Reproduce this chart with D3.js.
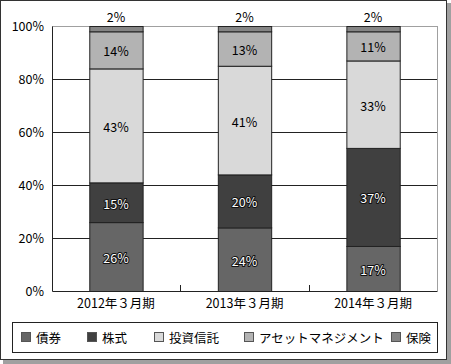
<!DOCTYPE html>
<html>
<head>
<meta charset="utf-8">
<script src="https://cdn.jsdelivr.net/npm/d3@7/dist/d3.min.js"></script>
<style>
  body { margin: 0; background: #fff; }
  svg text { font-family: "Noto Sans CJK JP", "Noto Sans", sans-serif; }
</style>
</head>
<body>
<div id="chart"></div>
<script>
// data
const periods = ['2012年３月期', '2013年３月期', '2014年３月期'];
const seriesNames = ['債券', '株式', '投資信託', 'アセットマネジメント', '保険'];
const bonds = [26, 24, 17];
const stocks = [15, 20, 37];
const trusts = [43, 41, 33];
const assetMgmt = [14, 13, 11];
const insurance = [2, 2, 2];
const yTicks = [0, 20, 40, 60, 80, 100];

const colors = ['#666666', '#404040', '#d9d9d9', '#b3b3b3', '#858585'];
const darkSeries = [true, true, false, false, false];

const W = 451, H = 364;
const margin = { top: 26, left: 52, right: 14, bottom: 73 };
const innerW = W - margin.left - margin.right;
const innerH = H - margin.top - margin.bottom;

const rows = periods.map((p, i) => ({
  period: p,
  '債券': bonds[i], '株式': stocks[i], '投資信託': trusts[i],
  'アセットマネジメント': assetMgmt[i], '保険': insurance[i]
}));
const stacked = d3.stack().keys(seriesNames)(rows);

const svg = d3.select('#chart').append('svg')
  .attr('width', W).attr('height', H);

// frame with shadow
svg.append('rect').attr('x', 3).attr('y', 3).attr('width', W - 3).attr('height', H - 3).attr('fill', '#a0a0a0');
svg.append('rect').attr('x', 0.5).attr('y', 0.5).attr('width', W - 5).attr('height', H - 5)
  .attr('fill', '#fff').attr('stroke', '#333');

const x = d3.scaleBand().domain(periods).range([0, innerW]).paddingInner(0.585).paddingOuter(0.29);
const y = d3.scaleLinear().domain([0, 100]).range([innerH, 0]);

const g = svg.append('g').attr('transform', `translate(${margin.left},${margin.top})`);

// gridlines
g.selectAll('.grid').data(yTicks.filter(t => t > 0)).join('line')
  .attr('x1', 0).attr('x2', innerW)
  .attr('y1', d => Math.round(y(d)) + 0.5).attr('y2', d => Math.round(y(d)) + 0.5)
  .attr('stroke', d => d === 100 ? '#a0a0a0' : '#222');
// right border
g.append('line').attr('x1', innerW + 0.5).attr('x2', innerW + 0.5).attr('y1', 0).attr('y2', innerH)
  .attr('stroke', '#a0a0a0');

// y axis
const yAxis = g.append('g').call(d3.axisLeft(y).tickValues(yTicks).tickFormat(d => d + '%').tickSize(0).tickPadding(8));
yAxis.select('.domain').attr('stroke', '#222');
yAxis.selectAll('text').attr('font-size', 12.5).attr('fill', '#000');

// x axis
const xAxis = g.append('g').attr('transform', `translate(0,${innerH})`)
  .call(d3.axisBottom(x).tickSize(0).tickPadding(8));
xAxis.select('.domain').attr('stroke', '#222');
xAxis.selectAll('text').attr('font-size', 12.5).attr('fill', '#000');
// inner ticks between categories
g.selectAll('.xtick').data([1, 2]).join('line')
  .attr('x1', d => Math.round(d * innerW / 3) + 0.5).attr('x2', d => Math.round(d * innerW / 3) + 0.5)
  .attr('y1', innerH).attr('y2', innerH - 6).attr('stroke', '#222');

// bars
const layers = g.selectAll('.layer').data(stacked).join('g')
  .attr('fill', (d, i) => colors[i]);
layers.selectAll('rect').data(d => d).join('rect')
  .attr('x', d => x(d.data.period) + 0.5)
  .attr('y', d => y(d[1]) + 0.5)
  .attr('width', x.bandwidth())
  .attr('height', d => y(d[0]) - y(d[1]))
  .attr('stroke', '#222').attr('stroke-width', 1);

// labels
stacked.forEach((layer, si) => {
  layer.forEach(d => {
    const v = d[1] - d[0];
    const cx = x(d.data.period) + x.bandwidth() / 2;
    if (si === seriesNames.length - 1) {
      g.append('text').attr('x', cx).attr('y', y(d[1]) - 10)
        .attr('text-anchor', 'middle').attr('dominant-baseline', 'central')
        .attr('font-size', 12.5).attr('fill', '#000').text(v + '%');
      return;
    }
    const t = g.append('text').attr('x', cx).attr('y', (y(d[0]) + y(d[1])) / 2 + 1)
      .attr('text-anchor', 'middle').attr('dominant-baseline', 'central')
      .attr('font-size', 12.5).text(v + '%');
    if (darkSeries[si]) {
      t.attr('fill', '#fff').attr('stroke', '#111').attr('stroke-width', 2)
        .attr('paint-order', 'stroke').attr('stroke-linejoin', 'round');
    } else {
      t.attr('fill', '#000');
    }
  });
});

// legend
const legend = svg.append('g');
legend.append('rect').attr('x', 12.5).attr('y', 322.5).attr('width', 425).attr('height', 30)
  .attr('fill', '#fff').attr('stroke', '#222');
const legX = [21, 87, 154, 244, 391];
seriesNames.forEach((s, i) => {
  legend.append('rect').attr('x', legX[i] + 0.5).attr('y', 332.5).attr('width', 9).attr('height', 9)
    .attr('fill', colors[i]).attr('stroke', '#555');
  legend.append('text').attr('x', legX[i] + 15).attr('y', 337.5)
    .attr('dominant-baseline', 'central').attr('font-size', 12.5).attr('fill', '#000').text(s);
});
</script>
</body>
</html>
